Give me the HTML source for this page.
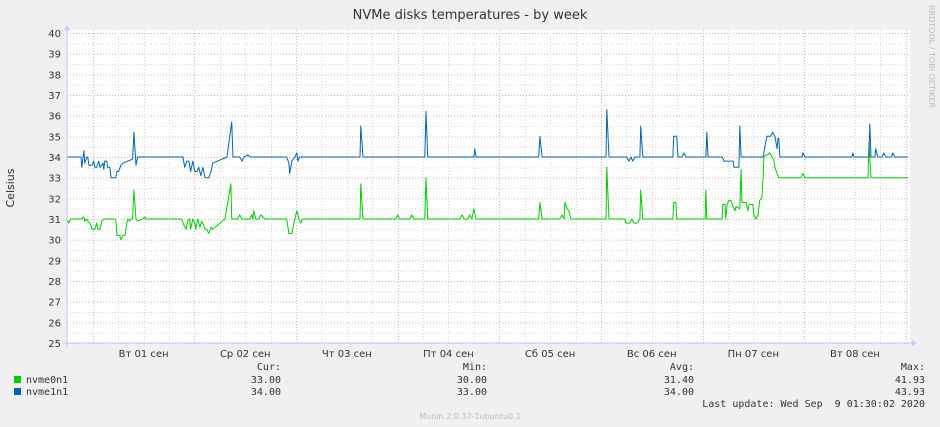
<!DOCTYPE html>
<html><head><meta charset="utf-8"><style>
html,body{margin:0;padding:0;background:#f0f0f0;}
svg{display:block;}
text{font-family:"DejaVu Sans","Liberation Sans",sans-serif;}
.mono{font-family:"DejaVu Sans Mono","Liberation Mono",monospace;font-size:10px;fill:#333;white-space:pre;}
</style></head><body>
<svg id="chart" width="940" height="427" viewBox="0 0 940 427" xmlns="http://www.w3.org/2000/svg">
<rect width="940" height="427" fill="#f0f0f0"/>
<text x="470" y="19" text-anchor="middle" font-size="13" fill="#333">NVMe disks temperatures - by week</text>
<text transform="translate(929,5) rotate(90)" font-size="8" fill="#bbb">RRDTOOL / TOBI OETIKER</text>
<text transform="translate(14,188) rotate(-90)" text-anchor="middle" font-size="11" fill="#333">Celsius</text>
<rect x="67" y="30" width="843" height="313" fill="#fff"/>
<g id="grid"></g>
<g id="yticks"></g>
<g id="xticks"></g>
<g id="series"></g>
<line x1="67" y1="28" x2="67" y2="347" stroke="#c8c8ff"/>
<line x1="63" y1="343" x2="914" y2="343" stroke="#c8c8ff"/>
<polygon points="64,30 70,30 67,25" fill="#c8c8ff"/>
<polygon points="912,340 912,346 917,343" fill="#c8c8ff"/>
<g>
<text class="mono" x="281" y="370" text-anchor="end">Cur:</text>
<text class="mono" x="487" y="370" text-anchor="end">Min:</text>
<text class="mono" x="694" y="370" text-anchor="end">Avg:</text>
<text class="mono" x="925" y="370" text-anchor="end">Max:</text>
<rect x="14" y="376" width="7" height="7" fill="#00cc00"/>
<text class="mono" x="26" y="383">nvme0n1</text>
<text class="mono" x="281" y="383" text-anchor="end">33.00</text>
<text class="mono" x="487" y="383" text-anchor="end">30.00</text>
<text class="mono" x="694" y="383" text-anchor="end">31.40</text>
<text class="mono" x="925" y="383" text-anchor="end">41.93</text>
<rect x="14" y="388" width="7" height="7" fill="#0066b3"/>
<text class="mono" x="26" y="395">nvme1n1</text>
<text class="mono" x="281" y="395" text-anchor="end">34.00</text>
<text class="mono" x="487" y="395" text-anchor="end">33.00</text>
<text class="mono" x="694" y="395" text-anchor="end">34.00</text>
<text class="mono" x="925" y="395" text-anchor="end">43.93</text>
<text class="mono" x="925" y="407" text-anchor="end">Last update: Wed Sep  9 01:30:02 2020</text>
</g>
<text x="470" y="419" text-anchor="middle" font-size="8" fill="#bbb">Munin 2.0.37-1ubuntu0.1</text>
</svg>
<script>
const yTicks=[25,26,27,28,29,30,31,32,33,34,35,36,37,38,39,40];
const dayLabels=["Вт 01 сен","Ср 02 сен","Чт 03 сен","Пт 04 сен","Сб 05 сен","Вс 06 сен","Пн 07 сен","Вт 08 сен"];
// hours relative to Sep 1 00:00
const t1=[-6.1,-2.8,-2.6,-2.1,-1.9,-1.4,-1.2,-0.9,-0.2,0.2,0.5,0.9,1.4,1.7,2.4,2.6,2.8,3.3,3.5,4.0,4.3,5.4,5.7,6.1,6.6,7.1,9.4,9.7,10.2,10.6,21.3,21.7,22.2,22.7,23.1,23.6,24.1,24.6,25.0,25.5,26.0,26.5,27.4,27.9,28.3,31.7,32.8,33.1,34.7,35.2,35.7,36.6,37.1,45.8,46.3,46.5,47.0,47.7,48.2,48.4,48.9,63.1,63.3,63.8,78.4,78.7,79.1,90.0,90.2,90.5,105.3,105.6,106.1,121.2,121.4,121.9,126.1,126.6,127.1,127.5,128.0,129.2,129.4,129.9,137.0,137.2,137.9,138.2,139.1,139.6,140.1,144.8,145.0,145.3,148.6,149.1,151.2,151.4,152.6,152.8,153.1,158.3,158.7,159.2,160.1,160.6,161.1,161.6,161.8,162.0,162.3,167.5,167.7,168.2,179.3,179.5,179.8,183.3,183.5,183.8,184.7,184.9,185.4,186.4,186.8,187.3,188.7,188.9,189.4,192.5];
const v1=[34,34,33.5,34.3,33.7,34,34,33.6,33.6,33.8,33.5,33.5,33.8,33.5,33.7,33.4,33.8,33.8,33.5,33.5,33,33,33.3,33.3,33.6,33.7,33.9,35.2,33.6,34,34,33.5,33.8,33.8,33.3,33.8,33.3,33.3,33.5,33.1,33.5,33,33,33.3,33.7,34,35.7,34,34,33.8,34,34.1,34,34,33.7,33.2,33.8,34,34.2,33.8,34,34,35.5,34,34,36.2,34,34,34.4,34,34,35,34,34,36.3,34,34,33.8,34,33.8,34,34,35.5,34,34,35,35,34,34,34.2,34,34,35.2,34,34,33.8,33.8,33.5,33.5,35.5,34,34,34.5,35,35,35.2,35,34.4,34.9,34.9,34,34,34.2,34,34,34.2,34,34,35.6,34,34,34.4,34,34,34.2,34,34,34.2,34,34];
const t0=[-6.1,-5.7,-5.2,-2.6,-2.1,-1.9,-1.4,-1.2,-0.7,-0.2,0.5,0.9,1.2,1.7,2.1,2.6,5.4,5.7,6.4,6.6,7.1,7.6,8.0,8.3,8.7,9.0,9.4,9.7,10.2,10.6,11.8,12.3,12.5,21.0,21.5,22.0,22.4,22.7,22.9,23.1,23.6,24.1,24.3,24.8,25.3,25.7,26.2,26.5,26.9,27.4,27.9,28.3,31.2,32.6,32.8,34.2,34.7,35.2,37.1,37.6,37.8,38.0,38.5,39.2,39.7,40.6,45.8,46.3,47.0,47.7,48.2,48.7,49.1,49.6,63.1,63.3,63.8,71.6,72.0,72.5,74.9,75.3,75.8,78.4,78.7,79.1,86.7,87.2,87.7,88.6,89.0,89.5,90.0,90.5,105.3,105.6,106.1,110.3,110.8,111.3,111.5,112.0,112.4,112.9,121.2,121.4,121.9,125.7,125.9,126.8,127.3,127.8,128.5,129.2,129.4,129.9,137.0,137.2,137.7,137.9,144.6,144.8,145.0,148.6,148.8,149.3,149.5,149.8,150.2,150.7,151.2,151.7,151.9,152.8,153.1,153.3,154.3,154.7,155.0,155.9,156.1,156.6,157.1,157.5,158.0,158.3,158.5,159.0,159.4,159.9,160.4,160.8,161.1,161.6,162.0,167.2,167.7,168.2,183.1,183.3,183.8,192.5];
const v0=[31,30.8,31,31,31.1,30.9,31,30.9,30.8,30.5,30.5,30.8,30.5,30.5,30.9,31,31,30.2,30.2,30,30.2,30.2,30.8,31,30.9,31,31,32.4,31,30.9,31,31.1,31,31,30.7,30.5,30.9,31,31,30.5,31,30.8,30.5,31,30.6,30.9,30.7,30.5,30.5,30.3,30.6,30.5,31,32.7,31,31,31.2,31,31,31.2,31,31.4,31,31,31.2,31,31,30.3,30.3,31,31.4,31,30.8,31,31,32.7,31,31,31.2,31,31,31.2,31,31,33,31,31,31.2,31,31,31.2,31,31.5,31,31,31.8,31,31,31.2,31,31.8,31.5,31.4,31,31,33.5,31,31,30.8,30.8,31,30.8,30.8,31,32.4,31,31,31.8,31.8,31,31,32.4,31,31,31.7,31.7,31,31.7,31.9,31.9,31.6,31.4,31.6,31.5,33.4,31.8,31.8,31.4,31.7,31.7,31.2,31,31.2,31.9,32,33,34,34.1,34.1,34.2,34,33.9,33.5,33.2,33,33,33.2,33,33,34.7,33,33];

const NS="http://www.w3.org/2000/svg";
const X0=67,X1=910,Y25=343,Y40=33;
const hMin=-6.1,hMax=193;
function xs(h){return X0+(h-hMin)/(hMax-hMin)*(X1-X0);}
function ys(v){return Y25-(v-25)/(40-25)*(Y25-Y40);}
function mk(tag,attrs,parent){const e=document.createElementNS(NS,tag);for(const k in attrs)e.setAttribute(k,attrs[k]);parent.appendChild(e);return e;}
const grid=document.getElementById('grid'),yt=document.getElementById('yticks'),xt=document.getElementById('xticks'),ser=document.getElementById('series');
for(let v=25;v<=40;v+=0.5){
  const y=ys(v)+0.5;
  const l=mk('line',{x1:X0,x2:X1,y1:y,y2:y,stroke:(v%1===0)?'#e8b0b0':'#d8d8d8','stroke-dasharray':'1,2'},grid);
  
  
}
for(let h=-6;h<=192;h+=6){
  const x=Math.round(xs(h))+0.5;
  const major=(h%24===0);
  const l=mk('line',{x1:x,x2:x,y1:Y40-3,y2:Y25,stroke:major?'#e8b0b0':'#d8d8d8','stroke-dasharray':'1,2'},grid);
  
  
}
yTicks.forEach(v=>{
  const t=mk('text',{x:61,y:ys(v)+4,'text-anchor':'end','font-size':'10',fill:'#333'},yt);
  t.textContent=v;
  
  
});
dayLabels.forEach((s,i)=>{
  const t=mk('text',{x:xs(i*24+12),y:357,'text-anchor':'middle','font-size':'10',fill:'#333'},xt);
  t.textContent=s;
  
  
});
function line(ts,vs,color,name){
  const d=ts.map((t,i)=>(i?'L':'M')+xs(t).toFixed(1)+','+ys(vs[i]).toFixed(1)).join(' ');
  const p=mk('path',{d:d,fill:'none',stroke:color,'stroke-width':'1','stroke-linejoin':'round'},ser);
  
  
}
line(t0,v0,'#00cc00','series-nvme0n1');
line(t1,v1,'#0066b3','series-nvme1n1');
</script>
</body></html>
